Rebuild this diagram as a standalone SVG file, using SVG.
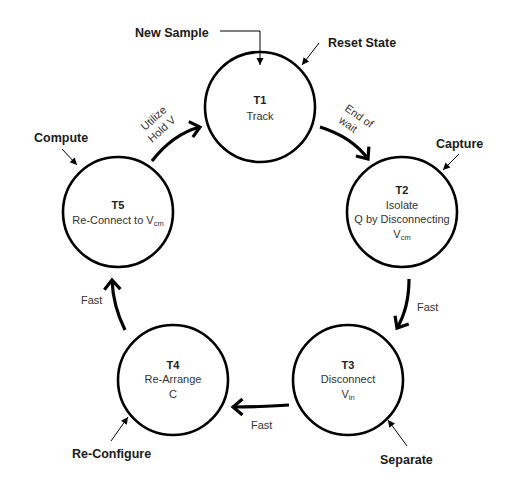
<svg xmlns="http://www.w3.org/2000/svg" width="512" height="496" viewBox="0 0 512 496">
<defs>
<marker id="thick" markerUnits="userSpaceOnUse" viewBox="-12 -10 16 20" refX="0" refY="0" markerWidth="16" markerHeight="20" orient="auto">
<path d="M-9.5,-8 L0,0 L-9.5,8" fill="none" stroke="#000" stroke-width="3.2" stroke-linejoin="miter"/>
</marker>
<marker id="thin" markerUnits="userSpaceOnUse" viewBox="-8 -5 9 10" refX="0" refY="0" markerWidth="9" markerHeight="10" orient="auto">
<path d="M-7,-3.5 L0,0 L-7,3.5 Z" fill="#000"/>
</marker>
</defs>
<style>
.node{fill:#fff;stroke:#000;stroke-width:2.6}
.t{font-family:"Liberation Sans",Arial,sans-serif;font-size:11px;fill:#333;text-anchor:middle}
.tb{font-weight:bold;fill:#222}
.lab{font-family:"Liberation Sans",Arial,sans-serif;font-size:12.5px;font-weight:bold;fill:#1a1a1a}
.e{font-family:"Liberation Sans",Arial,sans-serif;font-size:11px;fill:#333}
.sub{font-size:7.5px}
.big{fill:none;stroke:#000;stroke-width:3.2;marker-end:url(#thick)}
.sm{fill:none;stroke:#000;stroke-width:1;marker-end:url(#thin)}
</style>
<rect width="512" height="496" fill="#fff"/>
<g id="T1"><circle class="node" cx="260" cy="107" r="55"/>
<text class="t tb" x="260" y="104">T1</text><text class="t" x="260" y="120">Track</text></g>
<g id="T2"><circle class="node" cx="402" cy="212" r="55"/>
<text class="t tb" x="402" y="194">T2</text><text class="t" x="402" y="209">Isolate</text>
<text class="t" x="402" y="223">Q by Disconnecting</text>
<text class="t" x="402" y="238">V<tspan class="sub" dy="2">cm</tspan></text></g>
<g id="T3"><circle class="node" cx="348" cy="380" r="55"/>
<text class="t tb" x="348" y="369">T3</text><text class="t" x="348" y="383">Disconnect</text>
<text class="t" x="348" y="398">V<tspan class="sub" dy="2">in</tspan></text></g>
<g id="T4"><circle class="node" cx="173" cy="380" r="55"/>
<text class="t tb" x="173" y="369">T4</text><text class="t" x="173" y="383">Re-Arrange</text>
<text class="t" x="173" y="398">C</text></g>
<g id="T5"><circle class="node" cx="118" cy="212" r="55"/>
<text class="t tb" x="118" y="209">T5</text>
<text class="t" x="118" y="224">Re-Connect to V<tspan class="sub" dy="2">cm</tspan></text></g>
<g id="labels">
<text class="lab" x="135" y="37">New Sample</text>
<text class="lab" x="328" y="47">Reset State</text>
<text class="lab" x="34" y="142">Compute</text>
<text class="lab" x="436" y="148">Capture</text>
<text class="lab" x="72" y="458">Re-Configure</text>
<text class="lab" x="380" y="464">Separate</text>
</g>
<g id="connectors">
<path class="sm" d="M220,31 L260,31 L260,65"/>
<path class="sm" d="M319,43 L302,65"/>
<path class="sm" d="M62,149 L77,165"/>
<path class="sm" d="M459,154 L443,170"/>
<path class="sm" d="M111,441 L128,417"/>
<path class="sm" d="M407,446 L388,420"/>
<path class="big" d="M152,161 Q173,134 200,127"/>
<path class="big" d="M320,127 Q352,137 368,159"/>
<path class="big" d="M409,279 Q409,308 397,328"/>
<path class="big" d="M289,405 Q262,407 233,407"/>
<path class="big" d="M125,330 Q113,306 112,280"/>
<text class="e" transform="translate(145,131) rotate(-42)">Utilize</text>
<text class="e" transform="translate(152,143) rotate(-42)">Hold V</text>
<text class="e" transform="translate(344,110) rotate(35)">End of</text>
<text class="e" transform="translate(338,122) rotate(35)">wait</text>
<text class="e" x="417" y="311">Fast</text>
<text class="e" x="251" y="429">Fast</text>
<text class="e" x="81" y="304">Fast</text>
</g>
</svg>
